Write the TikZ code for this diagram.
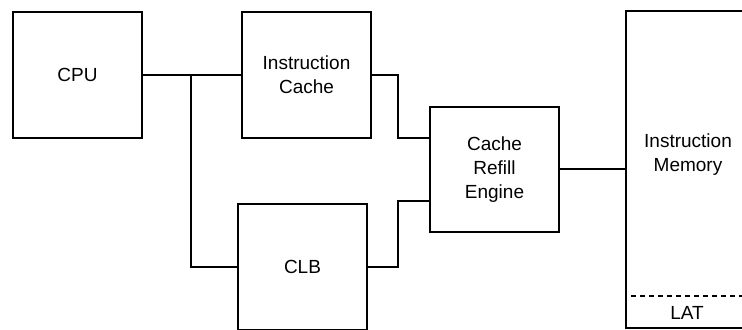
\documentclass[tikz,border=0pt]{standalone}
\usepackage{fontspec}
\setmainfont{Liberation Sans}
\usepackage{tikz}
\usetikzlibrary{positioning, calc}

\begin{document}
\begin{tikzpicture}[
    x=0.5pt, y=-0.5pt,
    node distance=32pt and 49pt,
    unit/.style={draw, line width=1pt, minimum width=64.5pt, minimum height=63pt,
                 inner sep=0pt, font=\fontsize{9.5}{12}\selectfont, align=center},
    lbl/.style={font=\fontsize{9.5}{12}\selectfont, align=center, inner sep=0pt},
    wire/.style={line width=1pt}
]
\useasboundingbox (0,0) rectangle (742,330);
\clip (0,0) rectangle (742,330);

\node[unit] (cpu) at (77.5,75) {CPU};
\node[unit, right=of cpu] (icache) {Instruction\\Cache};
\node[unit, below=32pt of icache, xshift=-2pt] (clb) {CLB};
\node[unit, minimum height=62.5pt] (refill) at (494.5,169.5) {Cache\\Refill\\Engine};
\node[unit, minimum width=63.5pt, minimum height=158.5pt, anchor=west] (imem) at (625,169.5) {};

\node[lbl] (imemtxt) at (688,155) {Instruction\\Memory};
\coordinate (latline) at (0,296);
\draw[dashed, line width=0.8pt, dash pattern=on 2.5pt off 2pt]
    ([xshift=3pt]imem.west |- latline) -- (imem.east |- latline);
\node[lbl] (lat) at (687,313) {LAT};

\coordinate (split) at (191,75);
\coordinate (jog) at (398,0);
\coordinate (in1) at ($(refill.north west)!0.25!(refill.south west)$);
\coordinate (in2) at ($(refill.north west)!0.75!(refill.south west)$);

\draw[wire] (cpu) -- (icache);
\draw[wire] (split) |- (clb);
\draw[wire] (icache.east) -| (jog |- in1) -- (in1);
\draw[wire] (clb.east) -| (jog |- in2) -- (in2);
\draw[wire] (refill) -- (imem);
\end{tikzpicture}
\end{document}
